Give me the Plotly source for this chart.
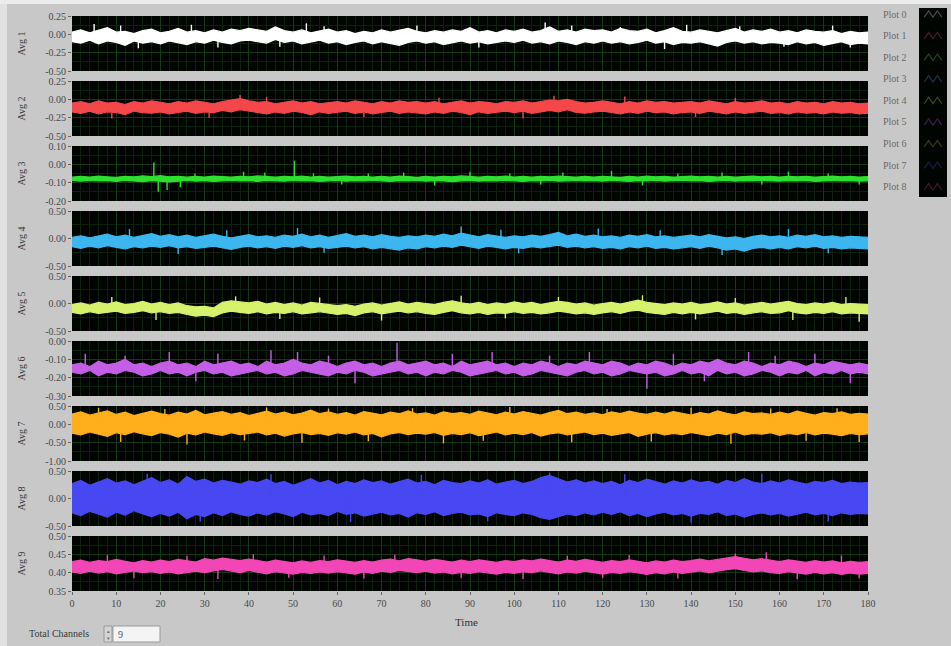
import numpy as np
import plotly.graph_objects as go

# ---------------------------------------------------------------- data
T_MIN, T_MAX = 0, 180
X_TICKS = list(range(0, 181, 10))

CHANNELS = ["Avg 1", "Avg 2", "Avg 3", "Avg 4", "Avg 5", "Avg 6", "Avg 7", "Avg 8", "Avg 9"]
PLOT_NAMES = ["Plot 0", "Plot 1", "Plot 2", "Plot 3", "Plot 4", "Plot 5", "Plot 6", "Plot 7", "Plot 8"]

COLORS = ["#ffffff", "#f4474a", "#2ee02e", "#3cb6ee", "#d6f26c",
          "#c55ee6", "#ffae1c", "#4848f2", "#f246b6"]
LEGEND_COLORS = ["#4a4a4a", "#4a1c2a", "#1c4a1c", "#1c3450", "#3c4a1c",
                 "#3a1c4a", "#3e3416", "#1c1c48", "#441830"]

Y_RANGES = [(-0.50, 0.25), (-0.50, 0.25), (-0.20, 0.10), (-0.50, 0.50), (-0.50, 0.50),
            (-0.30, 0.00), (-1.00, 0.50), (-0.50, 0.50), (0.35, 0.50)]
Y_TICKS = [[-0.50, -0.25, 0.00, 0.25], [-0.50, -0.25, 0.00, 0.25], [-0.20, -0.10, 0.00, 0.10],
           [-0.50, 0.00, 0.50], [-0.50, 0.00, 0.50], [-0.30, -0.20, -0.10, 0.00],
           [-1.00, -0.50, 0.00, 0.50], [-0.50, 0.00, 0.50], [0.35, 0.40, 0.45, 0.50]]

# resting level of each averaged signal (spikes start from here)
LEVELS = [-0.04, -0.11, -0.078, -0.06, -0.09, -0.15, 0.03, 0.0, 0.418]

# upper / lower envelope of each signal, sampled every 2 s from 0 to 180 s
UPPER_1 = [0.03, 0.06, 0.02, 0.05, 0.09, 0.03, 0.04, 0.01, 0.05, 0.07,
           0.02, 0.04, 0.08, 0.03, 0.05, 0.02, 0.06, 0.03, 0.07, 0.05,
           0.08, 0.06, 0.04, 0.10, 0.05, 0.03, 0.06, 0.02, 0.04, 0.07,
           0.03, 0.05, 0.01, 0.04, 0.02, 0.06, 0.03, 0.05, 0.08, 0.04,
           0.02, 0.05, 0.03, 0.06, 0.04, 0.09, 0.03, 0.05, 0.02, 0.06,
           0.04, 0.07, 0.03, 0.05, 0.10, 0.04, 0.06, 0.03, 0.07, 0.05,
           0.06, 0.03, 0.08, 0.05, 0.04, 0.07, 0.02, 0.05, 0.09, 0.04,
           0.03, 0.06, 0.04, 0.02, 0.05, 0.08, 0.03, 0.06, 0.04, 0.07,
           0.03, 0.05, 0.02, 0.06, 0.04, 0.03, 0.05, 0.01, 0.04, 0.02,
           0.03]
LOWER_1 = [-0.10, -0.12, -0.08, -0.13, -0.09, -0.11, -0.15, -0.09, -0.12, -0.10,
           -0.13, -0.09, -0.11, -0.14, -0.10, -0.12, -0.08, -0.11, -0.13, -0.09,
           -0.08, -0.10, -0.12, -0.07, -0.11, -0.09, -0.13, -0.10, -0.08, -0.12,
           -0.10, -0.14, -0.11, -0.09, -0.13, -0.10, -0.12, -0.15, -0.11, -0.09,
           -0.12, -0.10, -0.14, -0.11, -0.09, -0.12, -0.10, -0.13, -0.11, -0.09,
           -0.11, -0.08, -0.12, -0.10, -0.13, -0.09, -0.11, -0.14, -0.10, -0.12,
           -0.09, -0.12, -0.10, -0.13, -0.11, -0.08, -0.12, -0.10, -0.14, -0.11,
           -0.12, -0.10, -0.13, -0.16, -0.11, -0.09, -0.12, -0.10, -0.13, -0.11,
           -0.12, -0.14, -0.10, -0.13, -0.11, -0.15, -0.12, -0.10, -0.14, -0.12,
           -0.13]
SPIKE_T_1 = [5, 11, 27, 53, 57, 78, 107, 113, 124, 139, 151, 172, 15, 33, 47, 92, 134, 161, 176]
SPIKE_V_1 = [0.14, 0.12, 0.13, 0.15, 0.11, 0.12, 0.16, 0.12, 0.10, 0.13, 0.11, 0.12,
             -0.19, -0.18, -0.17, -0.18, -0.20, -0.17, -0.18]

UPPER_2 = [-0.05, -0.03, -0.06, -0.02, -0.05, -0.04, -0.07, -0.03, -0.05, -0.02,
           -0.04, -0.06, -0.03, -0.05, -0.02, -0.04, -0.06, -0.03, -0.01, 0.01,
           -0.02, -0.04, -0.03, -0.06, -0.04, -0.02, -0.05, -0.03, -0.06, -0.04,
           -0.03, -0.05, -0.02, -0.04, -0.06, -0.03, -0.05, -0.02, -0.04, -0.03,
           -0.05, -0.03, -0.06, -0.04, -0.02, -0.05, -0.03, -0.04, -0.06, -0.03,
           -0.04, -0.02, -0.05, -0.03, -0.01, -0.02, 0.00, -0.03, -0.05, -0.04,
           -0.02, -0.04, -0.06, -0.03, -0.05, -0.02, -0.04, -0.03, -0.05, -0.04,
           -0.03, -0.05, -0.02, -0.04, -0.06, -0.03, -0.05, -0.04, -0.02, -0.05,
           -0.04, -0.06, -0.03, -0.05, -0.04, -0.06, -0.03, -0.05, -0.04, -0.06,
           -0.05]
LOWER_2 = [-0.17, -0.19, -0.16, -0.20, -0.17, -0.18, -0.21, -0.16, -0.18, -0.19,
           -0.17, -0.20, -0.18, -0.16, -0.19, -0.17, -0.18, -0.15, -0.17, -0.14,
           -0.16, -0.18, -0.20, -0.17, -0.19, -0.16, -0.18, -0.21, -0.17, -0.19,
           -0.18, -0.16, -0.19, -0.17, -0.20, -0.18, -0.16, -0.19, -0.17, -0.18,
           -0.20, -0.17, -0.19, -0.16, -0.18, -0.21, -0.17, -0.19, -0.18, -0.16,
           -0.18, -0.16, -0.19, -0.17, -0.15, -0.17, -0.14, -0.18, -0.19, -0.17,
           -0.16, -0.18, -0.20, -0.17, -0.19, -0.16, -0.18, -0.17, -0.20, -0.18,
           -0.17, -0.19, -0.16, -0.18, -0.20, -0.17, -0.19, -0.18, -0.16, -0.19,
           -0.18, -0.20, -0.17, -0.19, -0.18, -0.20, -0.17, -0.19, -0.18, -0.20,
           -0.19]
SPIKE_T_2 = [38, 44, 83, 109, 125, 150, 9, 31, 66, 102, 141]
SPIKE_V_2 = [0.06, 0.03, 0.02, 0.05, 0.04, 0.02, -0.26, -0.25, -0.24, -0.26, -0.24]

UPPER_3 = [-0.070, -0.066, -0.069, -0.064, -0.068, -0.071, -0.065, -0.068, -0.063, -0.067,
           -0.062, -0.068, -0.065, -0.070, -0.066, -0.069, -0.064, -0.067, -0.070, -0.065,
           -0.068, -0.063, -0.067, -0.070, -0.066, -0.068, -0.064, -0.069, -0.066, -0.070,
           -0.067, -0.064, -0.068, -0.065, -0.070, -0.066, -0.069, -0.064, -0.067, -0.071,
           -0.066, -0.069, -0.065, -0.068, -0.063, -0.067, -0.070, -0.066, -0.068, -0.064,
           -0.069, -0.066, -0.070, -0.065, -0.068, -0.064, -0.067, -0.070, -0.066, -0.069,
           -0.065, -0.068, -0.071, -0.066, -0.069, -0.064, -0.068, -0.066, -0.070, -0.067,
           -0.064, -0.068, -0.065, -0.069, -0.066, -0.070, -0.067, -0.064, -0.068, -0.066,
           -0.069, -0.065, -0.068, -0.066, -0.070, -0.067, -0.064, -0.068, -0.066, -0.069,
           -0.067]
LOWER_3 = [-0.088, -0.092, -0.087, -0.091, -0.089, -0.093, -0.088, -0.090, -0.094, -0.089,
           -0.092, -0.096, -0.090, -0.088, -0.092, -0.089, -0.093, -0.090, -0.087, -0.091,
           -0.089, -0.093, -0.088, -0.090, -0.092, -0.088, -0.091, -0.089, -0.093, -0.090,
           -0.088, -0.092, -0.089, -0.091, -0.087, -0.090, -0.093, -0.089, -0.091, -0.088,
           -0.092, -0.089, -0.091, -0.094, -0.090, -0.088, -0.092, -0.089, -0.091, -0.088,
           -0.090, -0.093, -0.089, -0.091, -0.088, -0.092, -0.090, -0.087, -0.091, -0.089,
           -0.092, -0.088, -0.090, -0.093, -0.089, -0.091, -0.088, -0.092, -0.090, -0.088,
           -0.091, -0.089, -0.093, -0.090, -0.088, -0.092, -0.089, -0.091, -0.088, -0.090,
           -0.092, -0.089, -0.091, -0.088, -0.093, -0.090, -0.088, -0.091, -0.089, -0.092,
           -0.090]
SPIKE_T_3 = [18.5, 19.5, 21.5, 24.5, 27.8, 38.8, 43.6, 50.3, 54.6, 61, 67, 75, 82, 90, 99,
             106, 111, 122, 129, 137, 147, 156, 162, 171, 178]
SPIKE_V_3 = [0.010, -0.150, -0.140, -0.125, -0.050, -0.040, -0.045, 0.020, -0.050, -0.110,
             -0.050, -0.045, -0.115, -0.040, -0.050, -0.110, -0.045, -0.035, -0.115, -0.050,
             -0.045, -0.110, -0.040, -0.050, -0.110]

UPPER_4 = [0.02, 0.05, 0.01, 0.04, 0.08, 0.03, 0.06, 0.02, 0.05, 0.09,
           0.04, 0.07, 0.03, 0.06, 0.02, 0.05, 0.08, 0.04, 0.01, 0.04,
           0.07, 0.03, 0.05, 0.02, 0.06, 0.04, 0.08, 0.03, 0.06, 0.02,
           0.05, 0.09, 0.04, 0.06, 0.03, 0.07, 0.04, 0.02, 0.05, 0.03,
           0.06, 0.04, 0.08, 0.05, 0.10, 0.06, 0.03, 0.07, 0.04, 0.02,
           0.05, 0.03, 0.06, 0.04, 0.07, 0.11, 0.05, 0.08, 0.04, 0.06,
           0.03, 0.05, 0.02, 0.06, 0.04, 0.07, 0.03, 0.05, 0.02, 0.04,
           0.06, 0.03, 0.07, 0.04, 0.01, 0.03, 0.00, 0.04, 0.06, 0.03,
           0.05, 0.02, 0.06, 0.04, 0.07, 0.03, 0.05, 0.02, 0.04, 0.03,
           0.02]
LOWER_4 = [-0.15, -0.18, -0.14, -0.17, -0.13, -0.16, -0.19, -0.15, -0.17, -0.14,
           -0.16, -0.13, -0.17, -0.15, -0.18, -0.16, -0.14, -0.17, -0.20, -0.16,
           -0.14, -0.17, -0.15, -0.18, -0.14, -0.16, -0.13, -0.17, -0.15, -0.18,
           -0.16, -0.14, -0.17, -0.15, -0.19, -0.16, -0.18, -0.21, -0.17, -0.19,
           -0.15, -0.17, -0.14, -0.16, -0.12, -0.15, -0.18, -0.14, -0.16, -0.19,
           -0.16, -0.18, -0.15, -0.17, -0.14, -0.12, -0.16, -0.14, -0.17, -0.15,
           -0.18, -0.16, -0.19, -0.15, -0.17, -0.14, -0.18, -0.16, -0.19, -0.17,
           -0.15, -0.18, -0.14, -0.17, -0.21, -0.19, -0.23, -0.18, -0.16, -0.19,
           -0.16, -0.19, -0.15, -0.17, -0.14, -0.18, -0.16, -0.19, -0.17, -0.18,
           -0.19]
SPIKE_T_4 = [13, 35, 51, 88, 97, 119, 133, 162, 24, 57, 101, 147, 171]
SPIKE_V_4 = [0.17, 0.15, 0.19, 0.22, 0.16, 0.18, 0.15, 0.17, -0.28, -0.26, -0.27, -0.30, -0.27]

UPPER_5 = [-0.02, 0.01, -0.03, 0.02, -0.01, 0.03, -0.02, 0.00, 0.04, -0.01,
           0.02, -0.02, 0.01, -0.04, -0.06, -0.05, -0.08, 0.02, 0.05, 0.03,
           0.01, 0.04, -0.01, 0.02, -0.02, 0.01, -0.03, 0.02, 0.00, -0.02,
           -0.04, -0.02, -0.05, -0.01, 0.01, -0.03, 0.00, 0.03, -0.01, 0.02,
           0.00, -0.02, 0.02, 0.05, 0.01, -0.01, 0.02, -0.02, 0.01, -0.01,
           0.03, 0.00, 0.02, -0.02, 0.01, 0.04, 0.02, -0.01, 0.01, -0.03,
           0.00, 0.02, -0.01, 0.03, 0.06, 0.02, 0.00, -0.02, 0.01, -0.01,
           0.02, -0.02, 0.00, 0.03, -0.01, 0.01, -0.03, 0.00, 0.02, -0.01,
           0.01, 0.04, 0.00, -0.02, 0.01, -0.01, 0.02, -0.02, 0.00, -0.01,
           -0.02]
LOWER_5 = [-0.16, -0.19, -0.15, -0.18, -0.16, -0.14, -0.18, -0.16, -0.13, -0.17,
           -0.15, -0.18, -0.16, -0.20, -0.23, -0.21, -0.24, -0.17, -0.14, -0.16,
           -0.18, -0.15, -0.19, -0.16, -0.18, -0.15, -0.19, -0.17, -0.15, -0.18,
           -0.20, -0.18, -0.22, -0.17, -0.15, -0.19, -0.16, -0.14, -0.17, -0.15,
           -0.18, -0.20, -0.16, -0.13, -0.17, -0.19, -0.16, -0.20, -0.17, -0.18,
           -0.15, -0.18, -0.16, -0.19, -0.17, -0.14, -0.16, -0.19, -0.17, -0.20,
           -0.17, -0.15, -0.18, -0.14, -0.12, -0.16, -0.18, -0.20, -0.16, -0.19,
           -0.16, -0.19, -0.17, -0.14, -0.18, -0.16, -0.20, -0.17, -0.15, -0.18,
           -0.17, -0.13, -0.17, -0.19, -0.16, -0.18, -0.15, -0.19, -0.17, -0.18,
           -0.19]
SPIKE_T_5 = [9, 37, 56, 88, 110, 129, 150, 175, 19, 47, 70, 98, 141, 163, 178]
SPIKE_V_5 = [0.12, 0.13, 0.11, 0.14, 0.12, 0.15, 0.10, 0.12,
             -0.30, -0.28, -0.31, -0.27, -0.29, -0.30, -0.33]

UPPER_6 = [-0.13, -0.12, -0.14, -0.11, -0.13, -0.12, -0.10, -0.13, -0.12, -0.14,
           -0.12, -0.11, -0.13, -0.12, -0.14, -0.11, -0.13, -0.12, -0.11, -0.13,
           -0.12, -0.14, -0.11, -0.13, -0.12, -0.10, -0.12, -0.13, -0.11, -0.12,
           -0.14, -0.12, -0.11, -0.13, -0.12, -0.14, -0.12, -0.11, -0.13, -0.12,
           -0.11, -0.13, -0.12, -0.14, -0.11, -0.13, -0.12, -0.11, -0.13, -0.12,
           -0.14, -0.12, -0.13, -0.11, -0.12, -0.14, -0.12, -0.13, -0.11, -0.12,
           -0.13, -0.11, -0.12, -0.14, -0.12, -0.13, -0.11, -0.12, -0.14, -0.12,
           -0.13, -0.11, -0.12, -0.10, -0.12, -0.13, -0.11, -0.12, -0.14, -0.12,
           -0.13, -0.11, -0.12, -0.14, -0.12, -0.13, -0.11, -0.12, -0.13, -0.12,
           -0.13]
LOWER_6 = [-0.17, -0.18, -0.16, -0.19, -0.17, -0.18, -0.16, -0.17, -0.19, -0.18,
           -0.16, -0.18, -0.17, -0.19, -0.17, -0.16, -0.18, -0.17, -0.19, -0.18,
           -0.17, -0.16, -0.18, -0.17, -0.19, -0.18, -0.16, -0.17, -0.18, -0.19,
           -0.17, -0.18, -0.16, -0.17, -0.19, -0.18, -0.17, -0.16, -0.18, -0.17,
           -0.19, -0.17, -0.18, -0.16, -0.17, -0.19, -0.18, -0.17, -0.16, -0.18,
           -0.17, -0.19, -0.18, -0.16, -0.17, -0.18, -0.19, -0.17, -0.16, -0.18,
           -0.17, -0.19, -0.18, -0.16, -0.17, -0.18, -0.17, -0.19, -0.18, -0.16,
           -0.18, -0.17, -0.19, -0.16, -0.18, -0.17, -0.19, -0.18, -0.16, -0.17,
           -0.19, -0.17, -0.18, -0.16, -0.19, -0.17, -0.18, -0.16, -0.18, -0.17,
           -0.18]
SPIKE_T_6 = [3, 12, 22, 33, 45, 51, 58, 73.5, 86, 95, 108, 117, 136, 153, 159, 168,
             28, 64, 130, 143, 176]
SPIKE_V_6 = [-0.07, -0.08, -0.06, -0.07, -0.05, -0.06, -0.08, -0.01, -0.07, -0.06, -0.08,
             -0.06, -0.07, -0.06, -0.08, -0.07, -0.22, -0.23, -0.26, -0.22, -0.23]

UPPER_7 = [0.28, 0.34, 0.25, 0.31, 0.37, 0.27, 0.33, 0.24, 0.30, 0.36,
           0.29, 0.25, 0.33, 0.28, 0.38, 0.26, 0.31, 0.35, 0.27, 0.32,
           0.24, 0.30, 0.36, 0.28, 0.33, 0.26, 0.31, 0.39, 0.29, 0.34,
           0.27, 0.32, 0.25, 0.35, 0.30, 0.26, 0.33, 0.29, 0.37, 0.28,
           0.31, 0.25, 0.34, 0.29, 0.32, 0.27, 0.36, 0.30, 0.26, 0.33,
           0.28, 0.35, 0.30, 0.25, 0.32, 0.38, 0.29, 0.33, 0.27, 0.31,
           0.26, 0.34, 0.29, 0.36, 0.31, 0.27, 0.33, 0.28, 0.35, 0.30,
           0.25, 0.32, 0.28, 0.37, 0.30, 0.26, 0.34, 0.29, 0.31, 0.27,
           0.33, 0.28, 0.36, 0.30, 0.25, 0.32, 0.29, 0.34, 0.27, 0.30,
           0.28]
LOWER_7 = [-0.24, -0.29, -0.21, -0.27, -0.33, -0.23, -0.28, -0.20, -0.26, -0.31,
           -0.22, -0.27, -0.35, -0.24, -0.29, -0.21, -0.26, -0.30, -0.23, -0.28,
           -0.25, -0.21, -0.29, -0.24, -0.32, -0.26, -0.22, -0.28, -0.25, -0.30,
           -0.23, -0.27, -0.21, -0.29, -0.25, -0.34, -0.26, -0.22, -0.28, -0.24,
           -0.27, -0.22, -0.30, -0.25, -0.28, -0.23, -0.31, -0.26, -0.21, -0.29,
           -0.24, -0.28, -0.22, -0.32, -0.26, -0.23, -0.29, -0.25, -0.21, -0.28,
           -0.24, -0.30, -0.26, -0.22, -0.33, -0.27, -0.23, -0.29, -0.25, -0.28,
           -0.22, -0.27, -0.31, -0.24, -0.28, -0.21, -0.29, -0.25, -0.27, -0.23,
           -0.30, -0.25, -0.28, -0.22, -0.29, -0.24, -0.27, -0.31, -0.25, -0.28,
           -0.26]
SPIKE_T_7 = [6, 21, 44, 58, 77, 99, 121, 140, 158, 173,
             11, 26, 39, 52, 67, 84, 93, 113, 131, 149, 166, 178]
SPIKE_V_7 = [0.45, 0.42, 0.46, 0.43, 0.44, 0.47, 0.42, 0.45, 0.43, 0.44,
             -0.48, -0.55, -0.44, -0.50, -0.46, -0.52, -0.45, -0.49, -0.47, -0.53, -0.45, -0.48]

UPPER_8 = [0.27, 0.33, 0.24, 0.30, 0.36, 0.28, 0.32, 0.25, 0.31, 0.38,
           0.29, 0.34, 0.26, 0.40, 0.31, 0.35, 0.28, 0.33, 0.30, 0.26,
           0.32, 0.29, 0.35, 0.27, 0.31, 0.24, 0.30, 0.36, 0.28, 0.33,
           0.25, 0.31, 0.27, 0.34, 0.29, 0.32, 0.26, 0.30, 0.35, 0.28,
           0.31, 0.25, 0.33, 0.29, 0.27, 0.32, 0.28, 0.34, 0.26, 0.30,
           0.33, 0.27, 0.31, 0.38, 0.42, 0.36, 0.30, 0.34, 0.28, 0.32,
           0.27, 0.31, 0.25, 0.33, 0.29, 0.35, 0.30, 0.26, 0.32, 0.28,
           0.34, 0.29, 0.31, 0.26, 0.33, 0.29, 0.36, 0.30, 0.27, 0.32,
           0.28, 0.34, 0.30, 0.26, 0.31, 0.29, 0.33, 0.27, 0.30, 0.28,
           0.29]
LOWER_8 = [-0.26, -0.31, -0.23, -0.29, -0.34, -0.25, -0.30, -0.22, -0.28, -0.33,
           -0.27, -0.32, -0.25, -0.37, -0.29, -0.33, -0.26, -0.31, -0.24, -0.29,
           -0.32, -0.26, -0.30, -0.24, -0.28, -0.33, -0.25, -0.30, -0.27, -0.31,
           -0.23, -0.29, -0.26, -0.32, -0.28, -0.25, -0.30, -0.27, -0.34, -0.26,
           -0.29, -0.24, -0.31, -0.27, -0.25, -0.30, -0.28, -0.33, -0.26, -0.29,
           -0.31, -0.26, -0.29, -0.35, -0.38, -0.33, -0.28, -0.31, -0.26, -0.30,
           -0.25, -0.29, -0.24, -0.31, -0.27, -0.33, -0.28, -0.25, -0.30, -0.27,
           -0.32, -0.27, -0.29, -0.24, -0.31, -0.28, -0.34, -0.29, -0.26, -0.30,
           -0.27, -0.32, -0.28, -0.25, -0.30, -0.27, -0.31, -0.26, -0.29, -0.27,
           -0.28]
SPIKE_T_8 = [17, 45, 79, 108, 125, 156, 29, 63, 94, 140, 171]
SPIKE_V_8 = [0.45, 0.44, 0.43, 0.47, 0.44, 0.45, -0.42, -0.43, -0.41, -0.44, -0.42]

UPPER_9 = [0.430, 0.434, 0.428, 0.433, 0.430, 0.436, 0.431, 0.427, 0.433, 0.429,
           0.434, 0.430, 0.436, 0.432, 0.429, 0.438, 0.434, 0.440, 0.436, 0.433,
           0.437, 0.432, 0.429, 0.434, 0.430, 0.427, 0.432, 0.428, 0.433, 0.430,
           0.435, 0.431, 0.428, 0.433, 0.429, 0.434, 0.437, 0.432, 0.438, 0.435,
           0.431, 0.436, 0.433, 0.429, 0.434, 0.430, 0.435, 0.431, 0.428, 0.433,
           0.430, 0.435, 0.432, 0.437, 0.433, 0.429, 0.434, 0.431, 0.436, 0.432,
           0.428, 0.433, 0.430, 0.435, 0.431, 0.427, 0.432, 0.429, 0.434, 0.430,
           0.433, 0.437, 0.432, 0.436, 0.440, 0.444, 0.439, 0.435, 0.438, 0.433,
           0.430, 0.435, 0.431, 0.428, 0.433, 0.429, 0.432, 0.427, 0.431, 0.428,
           0.430]
LOWER_9 = [0.402, 0.398, 0.404, 0.399, 0.403, 0.397, 0.401, 0.405, 0.400, 0.403,
           0.398, 0.402, 0.397, 0.401, 0.404, 0.400, 0.405, 0.409, 0.404, 0.400,
           0.406, 0.401, 0.397, 0.403, 0.399, 0.396, 0.401, 0.398, 0.402, 0.399,
           0.403, 0.400, 0.396, 0.402, 0.398, 0.404, 0.401, 0.406, 0.403, 0.400,
           0.404, 0.399, 0.402, 0.397, 0.401, 0.398, 0.403, 0.399, 0.396, 0.401,
           0.398, 0.403, 0.400, 0.405, 0.401, 0.397, 0.402, 0.399, 0.404, 0.400,
           0.396, 0.401, 0.398, 0.403, 0.399, 0.395, 0.400, 0.397, 0.402, 0.398,
           0.401, 0.405, 0.400, 0.404, 0.408, 0.411, 0.406, 0.402, 0.405, 0.400,
           0.398, 0.403, 0.399, 0.396, 0.401, 0.397, 0.400, 0.395, 0.399, 0.396,
           0.398]
SPIKE_T_9 = [8, 26, 41, 57, 73, 112, 126, 150, 157, 174, 14, 33, 49, 66, 88, 102, 120, 137, 164, 178]
SPIKE_V_9 = [0.448, 0.446, 0.450, 0.447, 0.449, 0.446, 0.448, 0.452, 0.456, 0.447,
             0.385, 0.383, 0.386, 0.384, 0.385, 0.383, 0.386, 0.384, 0.382, 0.385]

# legend glyph template (small zig-zag), in glyph units
GLYPH_X = [0, 1, 2, 3, 4]
GLYPH_Y = [1, -1, 1, -1, 1]

ENVELOPES = [(UPPER_1, LOWER_1), (UPPER_2, LOWER_2), (UPPER_3, LOWER_3),
             (UPPER_4, LOWER_4), (UPPER_5, LOWER_5), (UPPER_6, LOWER_6),
             (UPPER_7, LOWER_7), (UPPER_8, LOWER_8), (UPPER_9, LOWER_9)]
SPIKES = [(SPIKE_T_1, SPIKE_V_1), (SPIKE_T_2, SPIKE_V_2), (SPIKE_T_3, SPIKE_V_3),
          (SPIKE_T_4, SPIKE_V_4), (SPIKE_T_5, SPIKE_V_5), (SPIKE_T_6, SPIKE_V_6),
          (SPIKE_T_7, SPIKE_V_7), (SPIKE_T_8, SPIKE_V_8), (SPIKE_T_9, SPIKE_V_9)]

# ---------------------------------------------------------------- layout geometry
W, H = 951, 646
PLOT_L, PLOT_R = 72, 868          # px, strip left / right edges
STRIP_TOP, STRIP_PITCH, STRIP_H = 16, 65, 55

BG = "#c8c8c8"
FONT = "Liberation Serif"
TICK_FONT = dict(family=FONT, size=10, color="#484848")
GRID_MAJOR = "#173817"
GRID_MINOR = "#0d200d"


def px_x(p):
    return p / W


def px_y(p):
    return 1 - p / H


def fmt(v):
    return f"{v:.2f}"


def label(text, x, y, size=10, color="#3a3a3a", angle=0, anchor="center", family=FONT):
    return dict(text=text, xref="paper", yref="paper", x=px_x(x), y=px_y(y),
                xanchor=anchor, yanchor="middle", textangle=angle, showarrow=False,
                font=dict(family=family, size=size, color=color))


fig = go.Figure()
layout = dict(
    width=W, height=H, autosize=False,
    margin=dict(l=0, r=0, t=0, b=0, pad=0, autoexpand=False),
    paper_bgcolor=BG, plot_bgcolor="#010501",
    showlegend=False,
    shapes=[], annotations=[],
)

for k in range(9):
    n = k + 1
    xa = "x" if n == 1 else f"x{n}"
    ya = "y" if n == 1 else f"y{n}"
    top = STRIP_TOP + STRIP_PITCH * k
    bottom = top + STRIP_H
    upper, lower = ENVELOPES[k]
    t_up = np.linspace(T_MIN, T_MAX, len(upper))
    t_lo = np.linspace(T_MIN, T_MAX, len(lower))

    # noise band of the averaged signal
    fig.add_trace(go.Scatter(
        x=list(t_up) + list(t_lo[::-1]), y=list(upper) + list(lower[::-1]),
        mode="lines", fill="toself", fillcolor=COLORS[k],
        line=dict(color=COLORS[k], width=1.2),
        xaxis=xa, yaxis=ya, hoverinfo="skip", name=CHANNELS[k]))

    # isolated spikes
    st, sv = SPIKES[k]
    xs, ys = [], []
    for t, v in zip(st, sv):
        xs += [t, t, None]
        ys += [LEVELS[k], v, None]
    fig.add_trace(go.Scatter(
        x=xs, y=ys, mode="lines", line=dict(color=COLORS[k], width=1.4),
        xaxis=xa, yaxis=ya, hoverinfo="skip", name=CHANNELS[k]))

    key_x = "xaxis" if n == 1 else f"xaxis{n}"
    key_y = "yaxis" if n == 1 else f"yaxis{n}"
    last = (k == 8)
    layout[key_x] = dict(
        domain=[px_x(PLOT_L), px_x(PLOT_R)], anchor=ya, range=[T_MIN, T_MAX],
        tickvals=X_TICKS, ticktext=[str(v) for v in X_TICKS],
        showticklabels=last, ticks="outside" if last else "", ticklen=3, tickcolor="#666",
        tickfont=TICK_FONT, showgrid=True, gridcolor=GRID_MAJOR, gridwidth=1,
        minor=dict(dtick=2, showgrid=True, gridcolor=GRID_MINOR, gridwidth=1),
        zeroline=False, showline=False, fixedrange=True, automargin=False,
    )
    y0, y1 = Y_RANGES[k]
    yt = Y_TICKS[k]
    layout[key_y] = dict(
        domain=[px_y(bottom), px_y(top)], anchor=xa, range=[y0, y1],
        tickvals=yt, ticktext=[fmt(v) for v in yt],
        ticks="outside", ticklen=3, tickcolor="#666", tickfont=TICK_FONT,
        showgrid=True, gridcolor=GRID_MAJOR, gridwidth=1,
        minor=dict(tickvals=[(a + b) / 2 for a, b in zip(yt[:-1], yt[1:])],
                   showgrid=True, gridcolor=GRID_MINOR),
        zeroline=False, showline=False, fixedrange=True, automargin=False,
    )
    # channel name, rotated, left of the tick labels
    layout["annotations"].append(label(CHANNELS[k], 21, (top + bottom) / 2, angle=-90))

# x axis title
layout["annotations"].append(label("Time", 466, 622, size=11, color="#333"))

# ---------------------------------------------------------------- legend (names left, glyphs right)
LEG_BOX = (919, 8, 947, 197)
ROW0, ROW_PITCH = 14, 21.6
gx, gy = "x10", "y10"
layout["xaxis10"] = dict(domain=[px_x(LEG_BOX[0]), px_x(LEG_BOX[2])], anchor=gy,
                         range=[-1.2, 5.2], visible=False, showgrid=False, fixedrange=True,
                         automargin=False)
layout["yaxis10"] = dict(domain=[px_y(LEG_BOX[3]), px_y(LEG_BOX[1])], anchor=gx,
                         range=[LEG_BOX[3], LEG_BOX[1]], visible=False, showgrid=False,
                         fixedrange=True, automargin=False)
for k, name in enumerate(PLOT_NAMES):
    cy = ROW0 + ROW_PITCH * k
    layout["annotations"].append(label(name, 895, cy, color="#6a6a6a"))
    fig.add_trace(go.Scatter(
        x=GLYPH_X, y=[cy + 3.2 * g for g in GLYPH_Y], mode="lines",
        line=dict(color=LEGEND_COLORS[k], width=1.2),
        xaxis=gx, yaxis=gy, hoverinfo="skip", name=name))

# ---------------------------------------------------------------- panel frame & controls
layout["shapes"] += [
    dict(type="rect", xref="paper", yref="paper", x0=0, x1=px_x(7), y0=0, y1=1,
         fillcolor="#e2e2e2", line=dict(width=0), layer="below"),
    dict(type="rect", xref="paper", yref="paper", x0=0, x1=1, y0=px_y(4), y1=1,
         fillcolor="#ececec", line=dict(width=0), layer="below"),
    # numeric control
    dict(type="rect", xref="paper", yref="paper", x0=px_x(113), x1=px_x(160),
         y0=px_y(642), y1=px_y(626), fillcolor="#f4f4f4",
         line=dict(color="#9a9a9a", width=1)),
    dict(type="rect", xref="paper", yref="paper", x0=px_x(104), x1=px_x(112),
         y0=px_y(642), y1=px_y(626), fillcolor="#d4d4d4",
         line=dict(color="#9a9a9a", width=1)),
]
layout["annotations"] += [
    label("Total Channels", 59, 633, size=10),
    label("9", 116, 634, color="#555", anchor="left"),
    label("▴<br>▾", 108, 634, size=5, color="#666", family="DejaVu Sans"),
]

fig.update_layout(**layout)
fig.write_html("out.html")
